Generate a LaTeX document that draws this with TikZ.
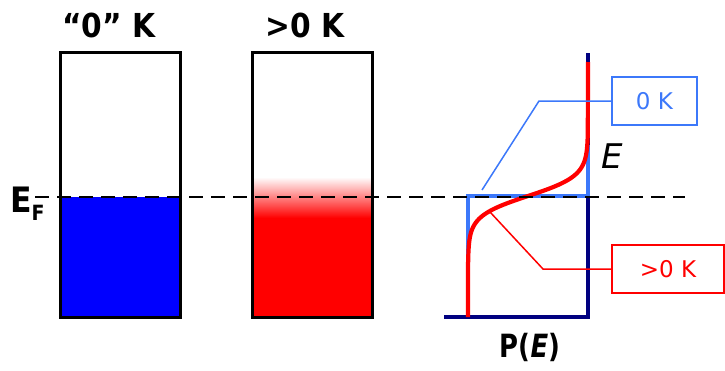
\documentclass[tikz,border=0pt]{standalone}
\usepackage{fontspec}
\setmainfont{DejaVu Sans}
\newfontfamily\condf{DejaVu Sans Condensed}
\definecolor{navyax}{RGB}{0,0,128}
\definecolor{stepblue}{RGB}{60,120,250}
\definecolor{fillblue}{RGB}{0,0,255}
\begin{document}
\begin{tikzpicture}[x=1pt,y=-1pt,
  tank/.style={draw=black,line width=3pt,minimum width=120pt,minimum height=265pt,inner sep=0pt,outer sep=0pt},
  title/.style={anchor=base,font=\fontsize{33}{33}\selectfont\condf\bfseries},
  tagbox/.style={draw,line width=2pt,minimum height=48pt,inner sep=0pt,font=\fontsize{23}{23}\selectfont},
  ferm/.style={dash pattern=on 14pt off 8pt,line width=1.8pt},
  callout/.style={line width=1.5pt}
]
\useasboundingbox (0,0) rectangle (725,370);
% fills
\fill[fillblue] (60,197) rectangle (180,317);
\shade[top color=white,bottom color=red] (252,177) rectangle (372,218);
\fill[red] (252,217.6) rectangle (372,317);
% boxes
\node[tank] (cold) at (120,184.5) {};
\node[tank] (warm) at (312,184.5) {};
% titles
\node[title] (tcold) at (109,37) {“0” K};
\node[title] (twarm) at (305,37) {>0 K};
% Fermi level
\node[anchor=base west,inner sep=0pt,font=\fontsize{35}{35}\selectfont\condf\bfseries] (ef) at (10,212) {E\raisebox{-8pt}{\fontsize{21}{21}\selectfont F}};
\coordinate (efL) at (35,197);
\coordinate (efR) at (685,197);
% axes
\coordinate (axTop) at (588,53);
\coordinate (axO) at (588,317);
\coordinate (axL) at (444,317);
\draw[navyax,line width=3.2pt] (axTop) -- (axO) -- (axL);
% 0 K step
\draw[stepblue,line width=3.5pt,line join=miter] (468,262) -- (468,196) -- (588,196) -- (588,145);
% >0 K Fermi curve
\draw[red,line width=4.2pt,line join=round]
  (468,317) -- (468,262) -- plot[domain=262:132,samples=120] ({588-120/(1+exp((196-\x)/10))},\x) -- (588,62);
% dashed Fermi line on top
\draw[ferm] (efL) -- (efR);
% labels
\node[anchor=base west,inner sep=0pt,font=\fontsize{34}{34}\selectfont\itshape] (elab) at (601,168) {E};
\node[anchor=base,inner sep=0pt,font=\fontsize{32}{32}\selectfont\condf\bfseries] (plab) at (530,357) {\scalebox{0.9}[1]{P(\textit{E})}};
% tag boxes
\node[tagbox,draw=stepblue,text=stepblue,minimum width=85pt] (zk) at (654.5,101) {0 K};
\node[tagbox,draw=red,text=red,minimum width=112pt] (gk) at (668,269) {>0 K};
\coordinate (zkA) at (539,101);
\coordinate (zkB) at (482,190);
\coordinate (gkA) at (543,269);
\coordinate (gkB) at (490,212);
\draw[callout,stepblue] (zk.west) -- (zkA) -- (zkB);
\draw[callout,red] (gk.west) -- (gkA) -- (gkB);
\end{tikzpicture}
\end{document}
